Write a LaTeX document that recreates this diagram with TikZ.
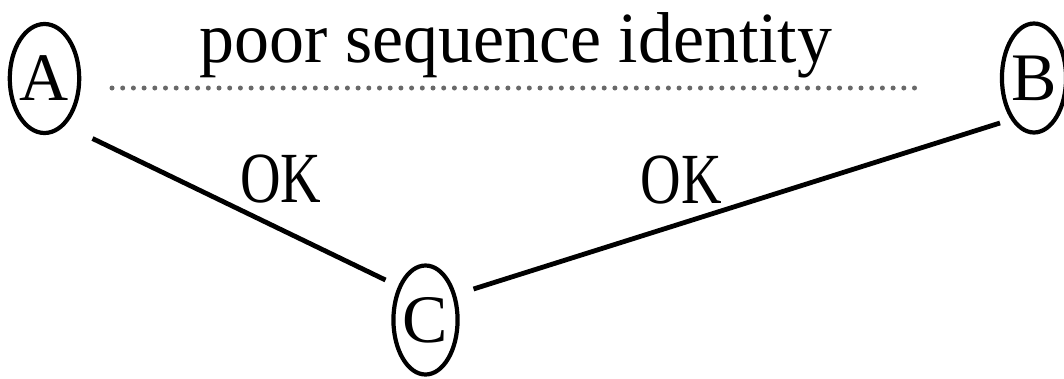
\documentclass[tikz,border=0pt]{standalone}
\usepackage{fontspec}
\setmainfont{Liberation Serif}
\usetikzlibrary{shapes.geometric}
\definecolor{dotgray}{RGB}{105,105,105}
\tikzset{
    seq/.style={ellipse,draw,line width=4.2pt,minimum width=54pt,minimum height=109pt,inner sep=0pt,font=\fontsize{68}{72}\selectfont},
    link/.style={line width=4.8pt},
    lbl/.style={anchor=base,inner sep=0pt,font=\fontsize{72}{76}\selectfont}
}
\begin{document}
\begin{tikzpicture}[x=1pt,y=-1pt]
        % Define dimensions
        \def\picwidth{1064}
        \def\picheight{378}
        \useasboundingbox (0,0) rectangle (\picwidth,\picheight);
        % Sequences
        \node[seq] (A) at (44.5,78.5) {A};
        \node[seq] (B) at (1034,78) {B};
        \node[seq] (C) at (425.5,320) {C};
        % Pairwise alignments
        \draw[link] ([shift={(48,60)}]A.center) -- ([shift={(-40,-40)}]C.center);
        \draw[link] ([shift={(48,-31)}]C.center) -- ([shift={(-34,45)}]B.center);
        \draw[dotgray,line width=5pt,line cap=round,dash pattern=on 0pt off 10.7pt]
            ([shift={(67.5,9.5)}]A.center) -- ([shift={(-109,10)}]B.center);
        % Labels
        \node[lbl] (poor) at (516,62) {\scalebox{0.97}[1]{poor sequence identity}};
        \node[lbl] (okAC) at (281,202) {\scalebox{0.78}[1]{OK}};
        \node[lbl] (okCB) at (681,203) {\scalebox{0.78}[1]{OK}};
    \end{tikzpicture}
\end{document}
